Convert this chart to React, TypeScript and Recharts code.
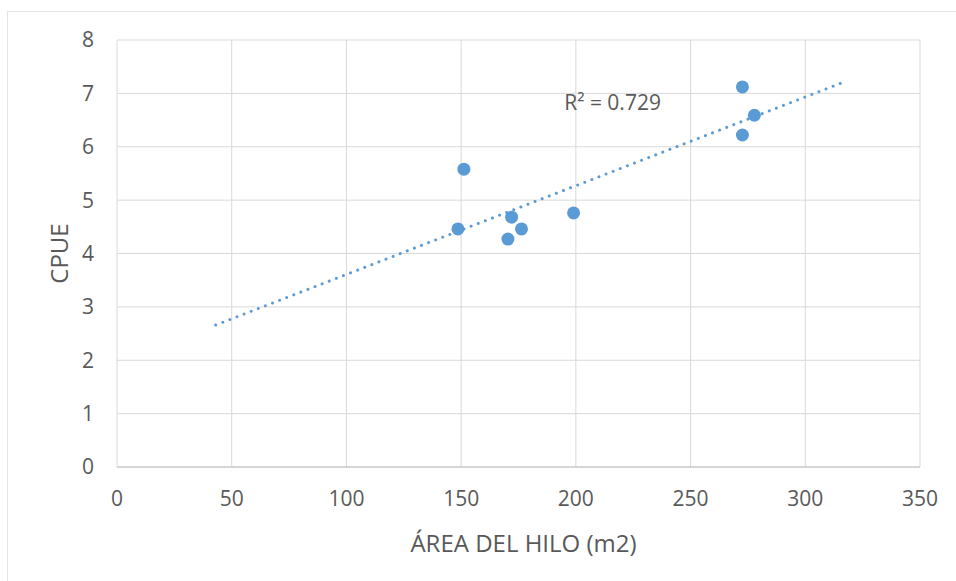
import {
  ScatterChart,
  Scatter,
  XAxis,
  YAxis,
  CartesianGrid,
  ReferenceDot,
} from "recharts";

// ---------------------------------------------------------------------------
// Data
// ---------------------------------------------------------------------------

const areaHilo = [148.6, 151.2, 170.4, 172.0, 176.3, 199.0, 272.6, 272.6, 277.8];
const cpue = [4.46, 5.58, 4.27, 4.68, 4.46, 4.76, 7.12, 6.22, 6.59];

// dotted linear trendline, drawn end to end as Excel shows it
const trendArea = [43, 315.5];
const trendCpue = [2.66, 7.19];

const xTicks = [0, 50, 100, 150, 200, 250, 300, 350];
const yTicks = [0, 1, 2, 3, 4, 5, 6, 7, 8];

const r2Label = "R² = 0.729";
const r2Pos = { x: 216, y: 6.83 };

const points = areaHilo.map((x, i) => ({ x, y: cpue[i] }));
const trend = trendArea.map((x, i) => ({ x, y: trendCpue[i] }));

const BLUE = "#5b9bd5";
const GRID = "#d9d9d9";
const TEXT = "#595959";
const FONT = "'Open Sans', sans-serif";

const tickStyle = { fill: TEXT, fontSize: 21, fontFamily: FONT };
const titleStyle = { fill: TEXT, fontSize: 24, fontFamily: FONT };

export default function App() {
  return (
    <div
      style={{
        position: "absolute",
        left: 0,
        top: 0,
        width: 956,
        height: 581,
        background: "#fff",
        overflow: "hidden",
      }}
    >
      {/* chart area border, cropped on the right and bottom */}
      <div
        style={{
          position: "absolute",
          left: 7,
          top: 11,
          width: 1000,
          height: 1000,
          border: "1px solid #e3e3e3",
        }}
      />
      <div style={{ position: "absolute", left: 0, top: 0 }}>
        <ScatterChart
          width={956}
          height={581}
          margin={{ top: 40, right: 36, bottom: 0, left: 0 }}
        >
          <CartesianGrid stroke={GRID} strokeWidth={1} />
          <XAxis
            type="number"
            dataKey="x"
            domain={[0, 350]}
            ticks={xTicks}
            interval={0}
            height={114}
            tickLine={false}
            axisLine={{ stroke: "#bfbfbf" }}
            tickMargin={18}
            tick={tickStyle}
            label={{
              value: "ÁREA DEL HILO (m2)",
              position: "insideBottom",
              offset: 29,
              dx: 5,
              style: titleStyle,
            }}
          />
          <YAxis
            type="number"
            dataKey="y"
            domain={[0, 8]}
            ticks={yTicks}
            interval={0}
            width={117}
            tickLine={false}
            axisLine={false}
            tickMargin={17}
            tick={tickStyle}
            label={{
              value: "CPUE",
              angle: -90,
              position: "center",
              dx: 1,
              style: titleStyle,
            }}
          />
          <Scatter
            data={trend}
            isAnimationActive={false}
            legendType="none"
            line={{
              stroke: BLUE,
              strokeWidth: 3,
              strokeDasharray: "0.01 7.6",
              strokeLinecap: "round",
            }}
            shape={() => <g />}
          />
          <Scatter
            data={points}
            isAnimationActive={false}
            legendType="none"
            shape={(p: any) => <circle cx={p.cx} cy={p.cy} r={6.5} fill={BLUE} />}
          />
          <ReferenceDot
            x={r2Pos.x}
            y={r2Pos.y}
            r={1}
            fill="none"
            stroke="none"
            label={{ value: r2Label, position: "center", style: tickStyle }}
          />
        </ScatterChart>
      </div>
    </div>
  );
}
